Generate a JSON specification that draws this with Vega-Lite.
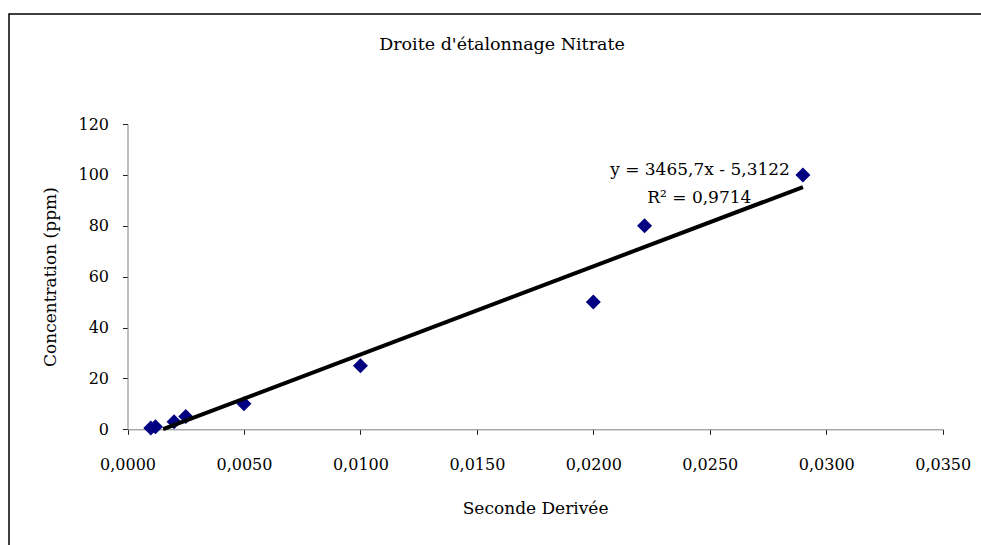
{
  "$schema": "https://vega.github.io/schema/vega-lite/v6.json",
  "autosize": {"type": "none"},
  "padding": {"left": 9, "top": 14, "right": -14, "bottom": -29},
  "width": 986,
  "height": 560,
  "background": "white",
  "config": {
    "font": "DejaVu Serif",
    "view": {"stroke": "black", "strokeWidth": 1.5}
  },
  "title": {
    "text": "Droite d'étalonnage Nitrate",
    "font": "DejaVu Serif",
    "fontSize": 17.5,
    "fontWeight": "normal",
    "color": "black",
    "anchor": "middle",
    "frame": "group",
    "baseline": "middle",
    "offset": -48
  },
  "datasets": {
    "pts": [
      {"deriv": 0.001, "conc": 0.5},
      {"deriv": 0.0012, "conc": 1},
      {"deriv": 0.002, "conc": 3},
      {"deriv": 0.0025, "conc": 5},
      {"deriv": 0.005, "conc": 10},
      {"deriv": 0.01, "conc": 25},
      {"deriv": 0.02, "conc": 50},
      {"deriv": 0.0222, "conc": 80},
      {"deriv": 0.029, "conc": 100}
    ],
    "eq": [
      {"ex": 0.02458, "ey": 101.9, "label": "y = 3465,7x - 5,3122"},
      {"ex": 0.02455, "ey": 91.0, "label": "R² = 0,9714"}
    ]
  },
  "encoding": {
    "x": {
      "field": "deriv",
      "type": "quantitative",
      "scale": {"domain": [0, 0.035], "range": [118.5, 933.7], "nice": false, "zero": false},
      "axis": {
        "orient": "bottom",
        "offset": -144.7,
        "values": [0, 0.005, 0.01, 0.015, 0.02, 0.025, 0.03, 0.035],
        "labelExpr": "replace(format(datum.value, '.4f'), '.', ',')",
        "grid": false,
        "domainColor": "#808080",
        "tickColor": "#222222",
        "tickSize": 5,
        "labelFont": "DejaVu Serif",
        "labelFontSize": 16,
        "labelColor": "black",
        "labelPadding": 22,
        "labelFlush": false,
        "labelOverlap": false,
        "title": "Seconde Derivée",
        "titleFont": "DejaVu Serif",
        "titleFontSize": 17,
        "titleFontWeight": "normal",
        "titleColor": "black",
        "titlePadding": 28
      }
    },
    "y": {
      "field": "conc",
      "type": "quantitative",
      "scale": {"domain": [0, 120], "range": [415.3, 110], "nice": false, "zero": false},
      "axis": {
        "orient": "left",
        "offset": -118.5,
        "values": [0, 20, 40, 60, 80, 100, 120],
        "grid": false,
        "domainColor": "#808080",
        "tickColor": "#222222",
        "tickSize": 5,
        "labelFont": "DejaVu Serif",
        "labelFontSize": 16,
        "labelColor": "black",
        "labelPadding": 14,
        "labelFlush": false,
        "labelOverlap": false,
        "title": "Concentration (ppm)",
        "titleFont": "DejaVu Serif",
        "titleFontSize": 17,
        "titleFontWeight": "normal",
        "titleColor": "black",
        "titlePadding": 18
      }
    }
  },
  "layer": [
    {
      "data": {"name": "pts"},
      "mark": {"type": "point", "shape": "diamond", "filled": true, "color": "#000080", "size": 225, "opacity": 1}
    },
    {
      "data": {"name": "pts"},
      "transform": [{"regression": "conc", "on": "deriv", "method": "linear", "extent": [0.00153, 0.029]}],
      "mark": {"type": "line", "color": "black", "strokeWidth": 4}
    },
    {
      "data": {"name": "eq"},
      "mark": {"type": "text", "font": "DejaVu Serif", "fontSize": 17, "color": "black", "align": "center", "baseline": "middle"},
      "encoding": {
        "x": {"field": "ex", "type": "quantitative"},
        "y": {"field": "ey", "type": "quantitative"},
        "text": {"field": "label"}
      }
    }
  ]
}
